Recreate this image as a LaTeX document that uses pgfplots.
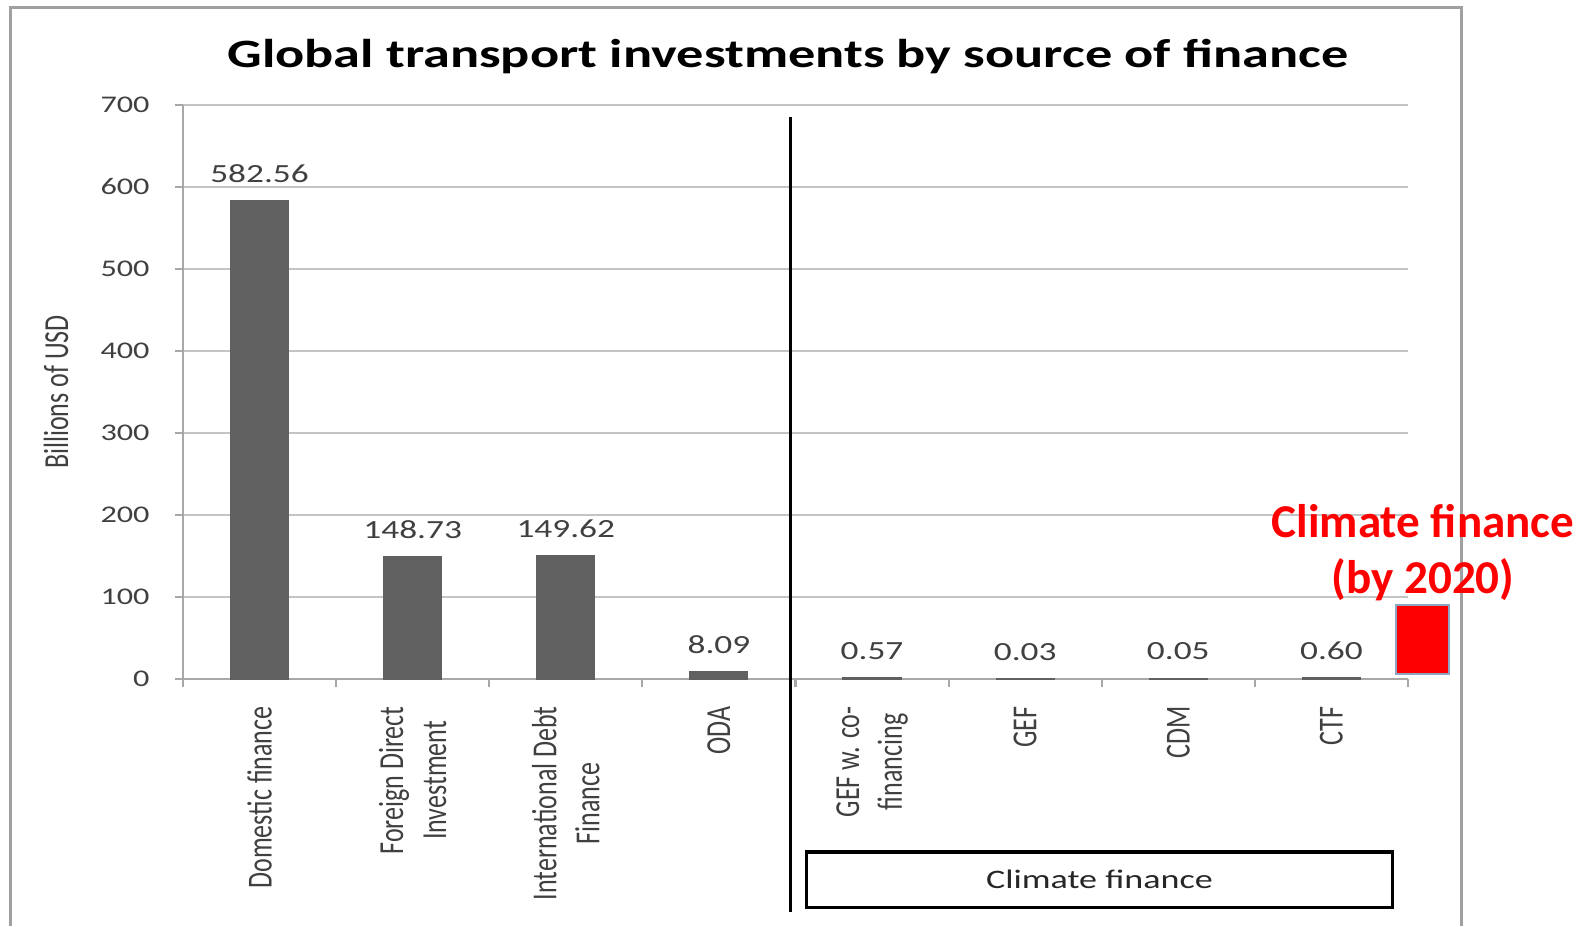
\documentclass[border=0pt]{standalone}
\usepackage{fontspec}
\setmainfont{Carlito}
\newfontfamily\hfont[FakeStretch=1.35]{Carlito}
\newfontfamily\vfont[FakeStretch=0.74]{Carlito}
\usepackage{pgfplots}
\usepackage{pgfplotstable}
\pgfplotsset{compat=1.18}

\definecolor{bargray}{HTML}{606060}
\definecolor{gridgray}{HTML}{C4C4C4}
\definecolor{axgray}{HTML}{A8A8A8}
\definecolor{txtgray}{HTML}{404040}
\definecolor{framegray}{HTML}{A0A0A0}
\definecolor{boxedge}{HTML}{8EA6C4}

% billions of USD
\pgfplotstableread{
x y
0 582.56
1 148.73
2 149.62
3 8.09
4 0.57
5 0.03
6 0.05
7 0.60
}\investments

\begin{document}
\begin{tikzpicture}
\useasboundingbox (0,0) rectangle (159.4mm,92.6mm);
\draw[framegray, line width=0.3mm] (1mm,0) -- (1mm,91.8mm) -- (146.1mm,91.8mm) -- (146.1mm,0);
\node[font=\hfont\bfseries\fontsize{11.45}{13}\selectfont, anchor=base] at (78.8mm,85.8mm)
  {Global transport investments by source of finance};

\begin{axis}[
  at={(18.3mm,24.7mm)}, anchor=south west,
  scale only axis, width=122.5mm, height=57.4mm,
  xmin=-0.5, xmax=7.5, ymin=0, ymax=700,
  clip=false,
  axis x line*=bottom, axis y line*=left,
  axis line style={axgray, line width=0.6pt},
  ymajorgrids, grid style={gridgray, line width=0.6pt},
  tick align=outside, major tick length=0.8mm,
  tick style={axgray, line width=0.6pt},
  ytick={0,100,...,700},
  xtick={-0.5,0.5,...,7.5},
  x tick label as interval,
  xticklabels={Domestic finance, {Foreign Direct\\Investment}, {International Debt\\Finance}, ODA, {GEF w. co-\\financing}, GEF, CDM, CTF},
  /pgf/number format/assume math mode=true,
  yticklabel style={font=\hfont\fontsize{6.8}{8}\selectfont, text=txtgray},
  yticklabel shift=1.3mm,
  xticklabel style={font=\vfont\fontsize{10}{12.2}\selectfont, text=txtgray, rotate=90, anchor=east, align=center},
  xticklabel shift=0.7mm,
  ylabel={Billions of USD},
  ylabel style={font=\vfont\fontsize{10}{12}\selectfont, text=txtgray, at={(axis description cs:-0.1037,0.5)}, anchor=center},
]
\addplot[ybar, bar width=5.7mm, fill=bargray, draw=bargray, line width=0.6pt,
  nodes near coords={\pgfmathprintnumber[fixed,fixed zerofill,precision=2]{\pgfplotspointmeta}},
  nodes near coords style={font=\hfont\fontsize{7.45}{8}\selectfont, text=txtgray, yshift=0.6mm}]
  table[x=x,y=y]{\investments};

% climate finance by 2020
\addplot[fill=red, draw=boxedge, line width=0.5pt]
  coordinates {(7.42,6) (7.77,6) (7.77,90) (7.42,90)} --cycle;

\draw[black, line width=0.9pt] (axis cs:3.47,685) -- (axis cs:3.47,-284);
\draw[black, line width=0.9pt] (axis cs:3.57,-211) rectangle (axis cs:7.40,-279);
\node[font=\hfont\fontsize{7.6}{9}\selectfont, text=black!85] at (axis cs:5.485,-244) {Climate finance};
\end{axis}

\node[font=\bfseries\fontsize{13.4}{15}\selectfont, text=red, anchor=base] at (142.3mm,38.9mm) {Climate finance};
\node[font=\bfseries\fontsize{13.4}{15}\selectfont, text=red, anchor=base] at (142.3mm,33.3mm) {(by 2020)};
\end{tikzpicture}
\end{document}
